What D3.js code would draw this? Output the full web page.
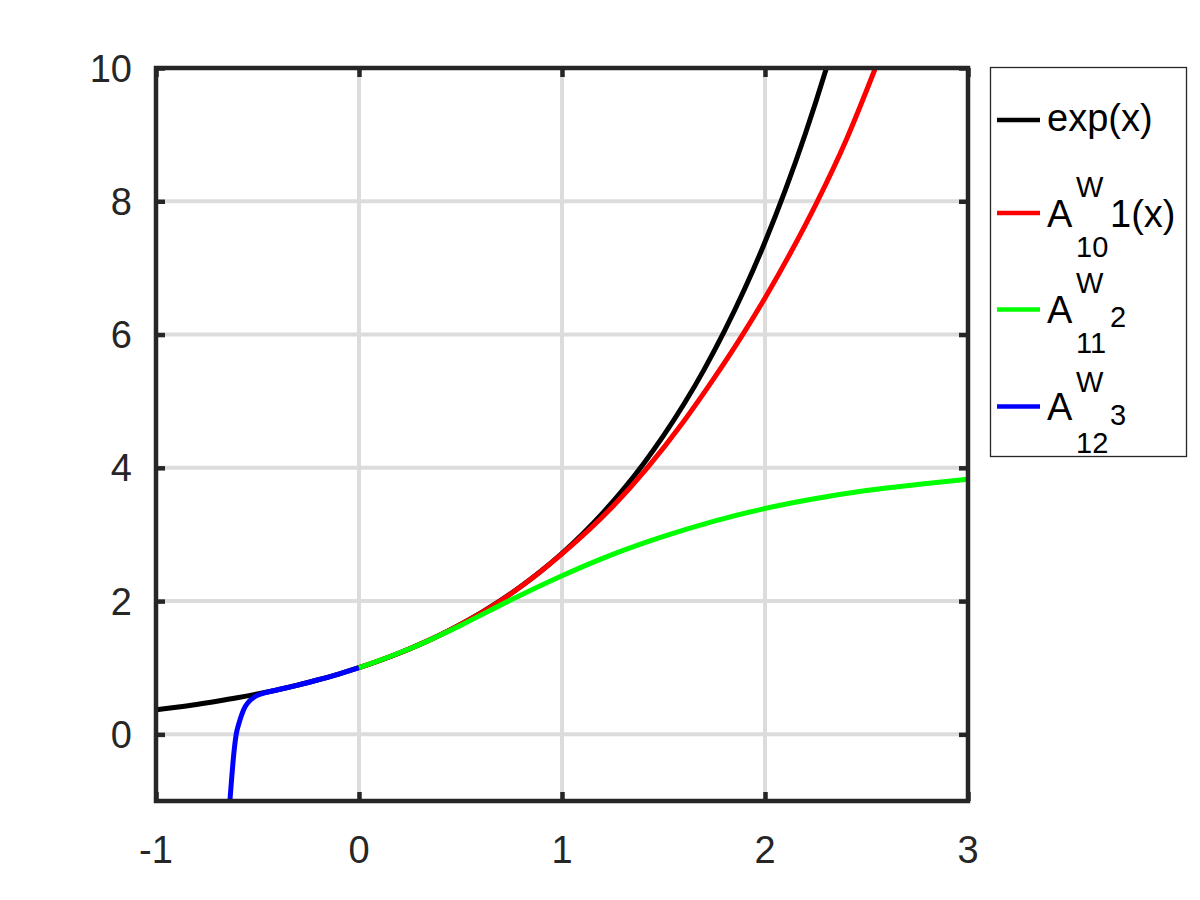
<!DOCTYPE html>
<html>
<head>
<meta charset="utf-8">
<script src="https://cdn.jsdelivr.net/npm/d3@7"></script>
<style>
  html, body { margin: 0; padding: 0; background: #fff; }
  svg { display: block; font-family: "Liberation Sans", Arial, Helvetica, sans-serif; }
</style>
</head>
<body>
<svg id="chart" width="1200" height="900"></svg>
<script>
// ---- data ----
const xTicks = [-1, 0, 1, 2, 3];
const yTicks = [0, 2, 4, 6, 8, 10];
const xTickLabels = ["-1", "0", "1", "2", "3"];
const yTickLabels = ["0", "2", "4", "6", "8", "10"];

const expX = [-1, -0.9, -0.8, -0.7, -0.6, -0.5, -0.4, -0.3, -0.2, -0.1, 0, 0.1, 0.2, 0.3, 0.4, 0.5, 0.6, 0.7, 0.8, 0.9, 1.0, 1.1, 1.2, 1.3, 1.4, 1.5, 1.6, 1.7, 1.8, 1.9, 2.0, 2.1, 2.2, 2.3, 2.3026];
const expY = [0.368, 0.407, 0.449, 0.497, 0.549, 0.607, 0.670, 0.741, 0.819, 0.905, 1.000, 1.105, 1.221, 1.350, 1.492, 1.649, 1.822, 2.014, 2.226, 2.460, 2.718, 3.004, 3.320, 3.669, 4.055, 4.482, 4.953, 5.474, 6.050, 6.686, 7.389, 8.166, 9.025, 9.974, 10.0];

const redX = [0, 0.25, 0.5, 0.75, 1.0, 1.25, 1.42, 1.6, 1.75, 1.89, 2.0, 2.13, 2.25, 2.4, 2.544];
const redY = [1.0, 1.284, 1.648, 2.115, 2.71, 3.42, 4.0, 4.7, 5.35, 6.0, 6.55, 7.25, 7.95, 8.92, 10.0];

const greenX = [0, 0.25, 0.5, 0.75, 1.0, 1.25, 1.5, 1.75, 2.0, 2.25, 2.5, 2.75, 3.0];
const greenY = [1.0, 1.285, 1.635, 2.02, 2.38, 2.70, 2.97, 3.2, 3.39, 3.54, 3.66, 3.75, 3.83];

const blueX = [-0.636, -0.627, -0.617, -0.605, -0.59, -0.575, -0.56, -0.54, -0.52, -0.5, -0.47, -0.4, -0.3, -0.2, -0.1, 0];
const blueY = [-1.0, -0.65, -0.30, 0.0, 0.18, 0.32, 0.42, 0.50, 0.55, 0.585, 0.62, 0.67, 0.74, 0.82, 0.905, 1.0];

const seriesColors = ["#000000", "#ff0000", "#00ff00", "#0000ff"];

// ---- drawing ----
const svg = d3.select("#chart");
const x = d3.scaleLinear().domain([-1, 3]).range([156, 968]);
const y = d3.scaleLinear().domain([-1, 10]).range([801, 68]);

const axisColor = "#262626";
const gridColor = "#dcdcdc";
const fontSize = 38;
const subSize = 29;

// grid
const grid = svg.append("g");
grid.selectAll("line.gx").data(xTicks).join("line")
  .attr("x1", d => x(d)).attr("x2", d => x(d))
  .attr("y1", y(-1)).attr("y2", y(10))
  .attr("stroke", gridColor).attr("stroke-width", 4);
grid.selectAll("line.gy").data(yTicks).join("line")
  .attr("x1", x(-1)).attr("x2", x(3))
  .attr("y1", d => y(d)).attr("y2", d => y(d))
  .attr("stroke", gridColor).attr("stroke-width", 4);

// clip
svg.append("defs").append("clipPath").attr("id", "clip")
  .append("rect").attr("x", x(-1)).attr("y", y(10) - 3)
  .attr("width", x(3) - x(-1)).attr("height", y(-1) - y(10) + 3);

const line = d3.line().x(d => x(d[0])).y(d => y(d[1])).curve(d3.curveMonotoneX);
const zip = (a, b) => a.map((v, i) => [v, b[i]]);
const drawOrder = [
  [zip(expX, expY), seriesColors[0]],
  [zip(blueX, blueY), seriesColors[3]],
  [zip(redX, redY), seriesColors[1]],
  [zip(greenX, greenY), seriesColors[2]]
];
const curves = svg.append("g").attr("clip-path", "url(#clip)");
drawOrder.forEach(([s, c]) => {
  curves.append("path").datum(s)
    .attr("d", line)
    .attr("fill", "none")
    .attr("stroke", c)
    .attr("stroke-width", 5)
    .attr("stroke-linejoin", "round");
});

// axes via d3 axis (ticks inward, on all four sides)
const tickLen = 9;
const axB = d3.axisBottom(x).tickValues(xTicks).tickFormat("").tickSize(tickLen);
const axL = d3.axisLeft(y).tickValues(yTicks).tickFormat("").tickSize(tickLen);
const gB = svg.append("g").attr("transform", `translate(0,${y(-1)})`).call(axB);
gB.selectAll(".tick line").attr("y2", -tickLen);
const gL = svg.append("g").attr("transform", `translate(${x(-1)},0)`).call(axL);
gL.selectAll(".tick line").attr("x2", tickLen);
const gT = svg.append("g").attr("transform", `translate(0,${y(10)})`).call(d3.axisTop(x).tickValues(xTicks).tickSize(tickLen).tickFormat(""));
gT.selectAll(".tick line").attr("y2", tickLen);
const gR = svg.append("g").attr("transform", `translate(${x(3)},0)`).call(d3.axisRight(y).tickValues(yTicks).tickSize(tickLen).tickFormat(""));
gR.selectAll(".tick line").attr("x2", -tickLen);
[gB, gL, gT, gR].forEach(g => {
  g.select(".domain").remove();
  g.selectAll(".tick text").remove();
  g.selectAll(".tick line").attr("stroke", axisColor).attr("stroke-width", 4.5);
});

// box
svg.append("rect")
  .attr("x", x(-1)).attr("y", y(10))
  .attr("width", x(3) - x(-1)).attr("height", y(-1) - y(10))
  .attr("fill", "none").attr("stroke", axisColor).attr("stroke-width", 4.5);

// tick labels
svg.append("g").selectAll("text").data(xTicks).join("text")
  .attr("x", d => x(d)).attr("y", 863)
  .attr("text-anchor", "middle")
  .attr("font-size", fontSize).attr("fill", axisColor)
  .text((d, i) => xTickLabels[i]);
svg.append("g").selectAll("text").data(yTicks).join("text")
  .attr("x", 132).attr("y", d => y(d))
  .attr("dy", "0.36em")
  .attr("text-anchor", "end")
  .attr("font-size", fontSize).attr("fill", axisColor)
  .text((d, i) => yTickLabels[i]);

// legend
const lg = svg.append("g");
lg.append("rect").attr("x", 990.5).attr("y", 67.5).attr("width", 196).attr("height", 389)
  .attr("fill", "#fff").attr("stroke", axisColor).attr("stroke-width", 1.3);

const legendRows = [
  { color: seriesColors[0], ly: 120 },
  { color: seriesColors[1], ly: 213 },
  { color: seriesColors[2], ly: 309.5 },
  { color: seriesColors[3], ly: 406.5 }
];
legendRows.forEach(r => {
  lg.append("line").attr("x1", 997).attr("x2", 1040).attr("y1", r.ly).attr("y2", r.ly)
    .attr("stroke", r.color).attr("stroke-width", 4.5);
});
const tx = 1047;
function t(xp, yp, size, str) {
  lg.append("text").attr("x", xp).attr("y", yp).attr("font-size", size).attr("fill", "#000").text(str);
}
// exp(x)
t(tx, 130.5, fontSize, "exp(x)");
// A^W_10 1(x)
t(tx, 226.5, fontSize, "A");
t(1076, 196.5, subSize, "W");
t(1076, 256.5, subSize, "10");
t(1110, 226.5, fontSize, "1(x)");
// A^W_11 2
t(tx, 322.5, fontSize, "A");
t(1076, 293, subSize, "W");
t(1076, 353, subSize, "11");
t(1110, 327, subSize, "2");
// A^W_12 3
t(tx, 420, fontSize, "A");
t(1076, 391.5, subSize, "W");
t(1076, 453, subSize, "12");
t(1110, 425, subSize, "3");
</script>
</body>
</html>
